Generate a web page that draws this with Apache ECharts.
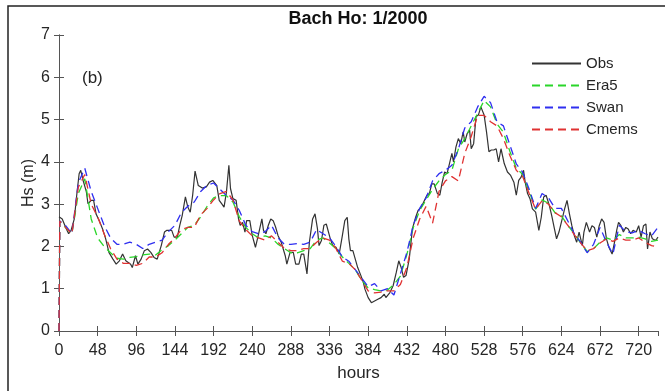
<!DOCTYPE html>
<html>
<head>
<meta charset="utf-8">
<script src="https://cdn.jsdelivr.net/npm/echarts@6/dist/echarts.min.js"></script>
<style>
  html, body { margin: 0; padding: 0; background: #fff; }
  #main { width: 665px; height: 391px; }
</style>
</head>
<body>
<div id="main"></div>
<script>
const obsHours = [0,4,9,12,15,19,22,25,27,30,34,36,40,43,46,50,54,58,62,67,71,75,79,83,86,89,91,95,98,102,106,110,114,118,122,127,131,134,137,140,143,147,150,153,157,160,163,166,169,173,178,183,187,191,196,199,202,205,208,211,213,216,220,223,225,228,231,233,237,240,244,247,252,254,257,260,263,266,269,272,276,281,283,287,291,294,298,301,304,308,311,315,318,321,323,326,329,332,334,337,340,344,348,352,355,358,360,362,365,368,371,375,378,380,384,388,392,396,400,404,406,411,415,419,422,425,428,431,435,439,443,446,450,454,457,460,463,466,470,473,476,479,482,485,488,490,493,496,499,502,504,507,510,512,515,518,521,524,528,531,534,537,540,543,546,549,553,557,561,565,568,571,574,577,579,582,585,588,592,596,599,602,605,609,612,615,618,621,625,628,631,634,637,640,643,646,650,652,655,659,662,665,668,671,674,677,680,683,687,690,693,695,698,701,704,707,710,713,717,720,723,726,729,731,734,737,741,744];
const obsHs = [2.70,2.65,2.42,2.30,2.38,2.65,3.21,3.72,3.80,3.56,3.29,3.01,3.09,3.09,2.77,2.61,2.42,2.18,1.86,1.70,1.58,1.66,1.82,1.66,1.62,1.58,1.50,1.78,1.58,1.70,1.90,1.94,1.86,1.74,1.70,2.02,2.34,2.38,2.38,2.38,2.22,2.22,2.50,2.73,3.17,2.93,2.81,3.21,3.78,3.44,3.38,3.41,3.52,3.56,3.44,3.09,3.01,2.93,3.29,3.92,3.37,3.13,3.09,2.65,2.50,2.57,2.34,2.61,2.61,2.26,1.98,2.22,2.65,2.38,2.30,2.50,2.65,2.61,2.46,2.26,2.10,1.78,1.58,1.86,1.86,1.58,1.58,1.82,1.82,1.35,2.10,2.65,2.77,2.42,2.02,2.14,2.50,2.53,2.57,2.18,2.02,1.98,1.82,2.26,2.61,2.69,2.18,1.90,1.90,1.70,1.50,1.31,1.15,0.99,0.79,0.67,0.71,0.75,0.79,0.87,0.79,0.91,1.07,1.39,1.66,1.50,1.27,1.31,1.70,2.42,2.69,2.85,2.93,3.09,3.21,3.25,3.48,3.48,3.25,3.21,3.52,3.76,3.72,3.96,4.20,4.00,4.35,4.55,4.43,4.71,4.47,4.67,4.75,4.31,4.43,5.07,5.11,5.30,5.11,4.71,4.24,4.28,4.28,4.31,4.00,4.31,3.96,3.76,3.68,3.52,3.21,3.56,3.64,3.80,3.52,3.25,3.13,2.89,2.81,2.38,2.69,3.17,3.21,2.97,2.73,2.45,2.18,2.34,2.65,2.89,3.09,2.77,2.49,2.26,2.10,2.34,2.02,2.34,2.57,2.34,2.49,2.45,2.22,2.49,2.65,2.57,2.18,1.98,1.82,2.10,2.41,2.57,2.49,2.34,2.45,2.41,2.30,2.38,2.34,2.49,2.22,2.49,2.53,1.94,2.34,2.18,2.14,2.22];

// Model Hs: start value at hour 0, then hour 1, then every 8 hours up to 744
const modelHours = [0,1,8,16,24,32,40,48,56,64,72,80,88,96,104,112,120,128,136,144,152,160,168,176,184,192,200,208,216,224,232,240,248,256,264,272,280,288,296,304,312,320,328,336,344,352,360,368,376,384,392,400,408,416,424,432,440,448,456,464,472,480,488,496,504,512,520,528,536,544,552,560,568,576,584,592,600,608,616,624,632,640,648,656,664,672,680,688,696,704,712,720,728,736,744];
const era5Hs = [0,2.6,2.45,2.3,3.25,3.6,2.65,2.2,2.0,1.85,1.72,1.7,1.74,1.76,1.8,1.82,1.8,1.92,2.02,2.15,2.3,2.45,2.5,2.7,2.95,3.15,3.2,3.2,3.05,2.7,2.45,2.3,2.2,2.25,2.2,2.05,1.95,1.85,1.85,1.9,1.95,2.15,2.2,2.08,1.95,1.75,1.6,1.45,1.2,1.02,0.98,0.95,0.97,1.1,1.3,1.8,2.45,2.85,3.1,3.35,3.55,3.7,3.8,4.3,4.55,4.85,5.15,5.45,5.3,4.9,4.7,4.25,3.85,3.7,3.3,2.88,3.1,3.02,2.8,2.72,2.5,2.3,2.08,1.88,1.95,2.1,2.2,2.15,2.28,2.2,2.2,2.22,2.18,2.12,2.15];
const swanHs = [0,2.6,2.5,2.3,3.5,3.85,3.3,2.9,2.5,2.2,2.05,2.05,2.1,2.05,1.95,2.05,2.1,2.15,2.35,2.5,2.8,2.95,3.05,3.3,3.45,3.5,3.35,3.2,3.1,2.85,2.5,2.35,2.3,2.35,2.5,2.2,2.05,2.05,2.07,2.05,2.1,2.4,2.3,2.2,2.0,1.75,1.65,1.45,1.25,1.05,1.12,0.95,1.0,0.85,1.35,1.85,2.5,2.9,3.15,3.55,3.72,3.8,3.92,4.3,4.8,4.95,5.3,5.55,5.4,4.95,4.85,4.4,3.95,3.75,3.35,2.9,3.25,3.15,2.9,2.9,2.6,2.3,2.1,1.85,2.05,2.45,2.1,1.82,2.5,2.35,2.32,2.38,2.3,2.25,2.45];
const cmemsHs = [0,2.6,2.45,2.3,3.4,3.7,3.0,2.7,2.3,1.95,1.7,1.6,1.6,1.55,1.6,1.75,1.75,1.85,2.05,2.2,2.4,2.45,2.45,2.75,2.9,3.1,3.25,3.3,3.1,2.6,2.4,2.25,2.2,2.15,2.25,2.1,1.95,1.9,1.9,1.95,1.95,2.1,2.2,2.15,1.95,1.65,1.6,1.45,1.2,0.95,0.9,0.92,0.95,0.95,1.1,1.5,2.2,2.65,2.95,2.55,3.3,3.55,3.65,3.55,4.2,4.6,5.1,5.1,4.95,4.85,4.55,4.15,3.8,3.65,3.25,2.88,3.08,3.0,2.8,2.7,2.5,2.28,2.08,1.9,1.95,2.08,2.18,2.12,2.2,2.15,2.15,2.2,2.1,2.02,1.98];

const seriesNames = ['Obs', 'Era5', 'Swan', 'Cmems'];
const seriesColors = ['#333333', '#2ad62a', '#2f2ff0', '#e03232'];

const FONT = '"Liberation Sans", Arial, sans-serif';
const TXT = '#262626';
const AXIS = '#555';

function pairs(hours, vals) {
    return hours.map((h, i) => [h, vals[i]]);
}

const chart = echarts.init(document.getElementById('main'), null, {renderer: 'canvas'});

const baseAxis = {
    axisLine: {show: true, lineStyle: {color: AXIS, width: 1}},
    axisTick: {show: true, inside: true, length: 5, lineStyle: {color: AXIS}},
    splitLine: {show: false}
};

const option = {
    backgroundColor: '#fff',
    animation: false,
    grid: {left: 59, right: 7, top: 35, bottom: 60},
    legend: {
        data: seriesNames,
        orient: 'vertical',
        left: 531,
        top: 56,
        itemWidth: 49,
        itemHeight: 14,
        itemGap: 7,
        padding: 0,
        itemStyle: {opacity: 0},
        textStyle: {fontSize: 15, color: TXT, fontFamily: FONT}
    },
    xAxis: [
        Object.assign({}, baseAxis, {
            type: 'value', min: 0, max: 744, interval: 48,
            name: 'hours', nameLocation: 'middle', nameGap: 34, nameMoveOverlap: false,
            nameTextStyle: {fontSize: 17, color: TXT, fontFamily: FONT},
            axisLabel: {fontSize: 16, color: TXT, fontFamily: FONT, margin: 12, showMaxLabel: false}
        }),
        Object.assign({}, baseAxis, {
            type: 'value', min: 0, max: 744, interval: 48, position: 'top',
            axisLabel: {show: false}
        })
    ],
    yAxis: [
        Object.assign({}, baseAxis, {
            type: 'value', min: 0, max: 7, interval: 1,
            name: 'Hs (m)', nameLocation: 'middle', nameGap: 22, nameMoveOverlap: false,
            nameTextStyle: {fontSize: 16, color: TXT, fontFamily: FONT},
            axisLabel: {fontSize: 16, color: TXT, fontFamily: FONT, margin: 9}
        }),
        Object.assign({}, baseAxis, {
            type: 'value', min: 0, max: 7, interval: 1, position: 'right',
            axisLabel: {show: false}
        })
    ],
    series: [
        {name: 'Obs', data: pairs(obsHours, obsHs), lineStyle: {type: 'solid', width: 1.2}},
        {name: 'Era5', data: pairs(modelHours, era5Hs), lineStyle: {type: [8, 5], width: 1.3}},
        {name: 'Swan', data: pairs(modelHours, swanHs), lineStyle: {type: [8, 5], width: 1.3}},
        {name: 'Cmems', data: pairs(modelHours, cmemsHs), lineStyle: {type: [8, 5], width: 1.3}}
    ].map((s, i) => Object.assign(s, {
        type: 'line',
        xAxisIndex: 0,
        yAxisIndex: 0,
        showSymbol: false,
        symbol: 'none',
        color: seriesColors[i],
        lineStyle: Object.assign(s.lineStyle, {color: seriesColors[i]})
    })),
    graphic: [
        {
            type: 'text',
            x: 358, y: 19,
            style: {text: 'Bach Ho: 1/2000', fontSize: 18, fontWeight: 'bold', fontFamily: FONT, fill: '#111', align: 'center', verticalAlign: 'middle'}
        },
        {
            type: 'text',
            x: 82, y: 78,
            style: {text: '(b)', fontSize: 17, fontFamily: FONT, fill: TXT, verticalAlign: 'middle'}
        },
        {
            type: 'rect',
            shape: {x: 8, y: 6, width: 700, height: 420},
            style: {fill: 'none', stroke: '#222', lineWidth: 1.5},
            silent: true
        }
    ]
};

chart.setOption(option);
</script>
</body>
</html>
